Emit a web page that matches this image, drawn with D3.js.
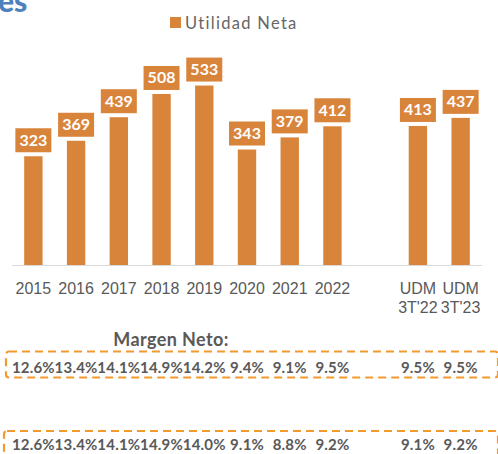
<!DOCTYPE html>
<html>
<head>
<meta charset="utf-8">
<script src="https://cdn.jsdelivr.net/npm/d3@7"></script>
<style>
  html, body { margin: 0; padding: 0; background: #fff; overflow: hidden; }
  svg { display: block; font-family: Lato, "Open Sans", sans-serif; }
</style>
</head>
<body>
<svg id="chart" width="498" height="454"></svg>
<script>
const categories = ["2015", "2016", "2017", "2018", "2019", "2020", "2021", "2022", "", "UDM\n3T'22", "UDM\n3T'23"];
const utilidad = [323, 369, 439, 508, 533, 343, 379, 412, null, 413, 437];
const margenA = [12.6, 13.4, 14.1, 14.9, 14.2, 9.4, 9.1, 9.5, null, 9.5, 9.5];
const margenB = [12.6, 13.4, 14.1, 14.9, 14.0, 9.1, 8.8, 9.2, null, 9.1, 9.2];

const barColor = "#d9843b";
const dashColor = "#f29a2e";
const textGray = "#595959";

const svg = d3.select("#chart");

const x = d3.scaleBand()
    .domain(categories)
    .range([12, 482])
    .paddingInner(0.57)
    .paddingOuter(0.285);

const y = d3.scaleLinear()
    .domain([0, 600])
    .range([265, 63]);

const rows = categories.map((c, i) => ({cat: c, value: utilidad[i], a: margenA[i], b: margenB[i]}));
const bars = rows.filter(d => d.value != null);

// cropped title fragment
svg.append("text")
    .attr("x", -2)
    .attr("y", 12)
    .attr("fill", "#4f81bd")
    .attr("font-size", 30)
    .attr("font-weight", 900)
    .text("es");

// legend
const legend = svg.append("g").attr("transform", "translate(170,17)");
legend.append("rect").attr("width", 11).attr("height", 11).attr("fill", barColor);
legend.append("text")
    .attr("x", 15)
    .attr("y", 11.5)
    .attr("fill", "#666")
    .attr("font-size", 16.5)
    .attr("letter-spacing", 1.3)
    .text("Utilidad Neta");

// bars
svg.append("g")
    .selectAll("rect")
    .data(bars)
    .join("rect")
    .attr("x", d => x(d.cat))
    .attr("y", d => y(d.value))
    .attr("width", x.bandwidth())
    .attr("height", d => y(0) - y(d.value))
    .attr("fill", barColor);

// baseline
svg.append("line")
    .attr("x1", x.range()[0])
    .attr("x2", x.range()[1])
    .attr("y1", y(0) + 0.5)
    .attr("y2", y(0) + 0.5)
    .attr("stroke", "#d9d9d9")
    .attr("stroke-width", 1.2);

// value labels
const labels = svg.append("g")
    .selectAll("g")
    .data(bars)
    .join("g")
    .attr("transform", d => `translate(${x(d.cat) + x.bandwidth() / 2},${y(d.value) - 4})`);

labels.append("rect")
    .attr("x", -18)
    .attr("y", -24)
    .attr("width", 36)
    .attr("height", 24)
    .attr("fill", barColor);

labels.append("text")
    .attr("y", -6.5)
    .attr("text-anchor", "middle")
    .attr("fill", "#fff")
    .attr("font-size", 16)
    .attr("font-weight", "bold")
    .text(d => d.value);

// x axis labels
const xAxis = svg.append("g")
    .attr("transform", `translate(0,${y(0)})`)
    .call(d3.axisBottom(x).tickSize(0).tickFormat(""));
xAxis.select(".domain").remove();

xAxis.selectAll(".tick")
    .append("text")
    .attr("fill", textGray)
    .attr("font-size", 16)
    .attr("text-anchor", "middle")
    .selectAll("tspan")
    .data(d => d.split("\n"))
    .join("tspan")
    .attr("x", 0)
    .attr("y", (d, i) => 29 + i * 19)
    .text(d => d);

// Margen Neto
svg.append("text")
    .attr("x", 171)
    .attr("y", 346)
    .attr("text-anchor", "middle")
    .attr("fill", textGray)
    .attr("font-size", 18)
    .attr("font-weight", "bold")
    .attr("letter-spacing", 0.4)
    .text("Margen Neto:");

function marginRow(key, box, baseY) {
    svg.append("rect")
        .attr("x", box[0])
        .attr("y", box[1])
        .attr("width", box[2])
        .attr("height", box[3])
        .attr("rx", 3)
        .attr("fill", "none")
        .attr("stroke", dashColor)
        .attr("stroke-width", 2.2)
        .attr("stroke-dasharray", "8,5");

    svg.append("g")
        .selectAll("text")
        .data(rows.filter(d => d[key] != null))
        .join("text")
        .attr("x", d => x(d.cat) + x.bandwidth() / 2)
        .attr("y", baseY)
        .attr("text-anchor", "middle")
        .attr("fill", textGray)
        .attr("font-size", 15)
        .attr("font-weight", "bold")
        .attr("letter-spacing", 0.2)
        .text(d => d[key].toFixed(1) + "%");
}

marginRow("a", [6, 351.5, 492, 26], 373);
marginRow("b", [4, 431, 494, 40], 450);
</script>
</body>
</html>
